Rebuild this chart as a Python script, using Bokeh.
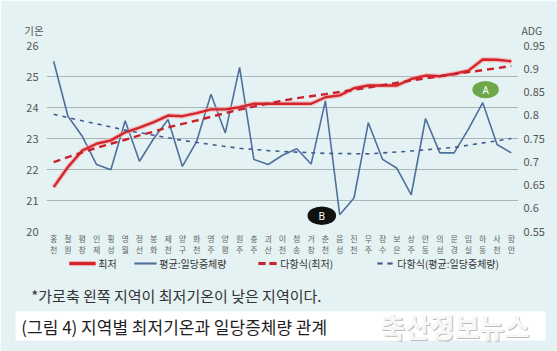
from bokeh.plotting import figure
from bokeh.models import (Range1d, LinearAxis, FixedTicker, Label)
from bokeh.core.properties import value
from bokeh.embed import file_html
from bokeh.resources import INLINE

# ---------------- data ----------------
regions = ["홍천", "철원", "평창", "인제", "횡성", "영월", "정선", "봉화", "제천", "양구", "화천",
           "영주", "양평", "원주", "충주", "괴산", "이천", "청송", "거창", "춘천", "음성", "진천",
           "무주", "장수", "보은", "상주", "안동", "의성", "문경", "임실", "하동", "사천", "함안"]
tmin = [21.43, 22.08, 22.61, 22.83, 22.94, 23.20, 23.35, 23.53, 23.74, 23.72, 23.82,
        23.94, 23.94, 24.01, 24.12, 24.12, 24.12, 24.12, 24.12, 24.33, 24.39, 24.62,
        24.71, 24.71, 24.71, 24.92, 25.03, 25.01, 25.09, 25.19, 25.55, 25.54, 25.49]
adg = [0.916, 0.798, 0.755, 0.694, 0.683, 0.788, 0.701, 0.750, 0.791, 0.690, 0.744,
       0.845, 0.762, 0.903, 0.705, 0.694, 0.714, 0.728, 0.695, 0.831, 0.586, 0.622,
       0.784, 0.705, 0.686, 0.629, 0.793, 0.719, 0.719, 0.770, 0.827, 0.737, 0.719]
# polynomial trend lines
tmin_trend_idx = [0, 1, 2, 3, 4, 5, 6, 7, 8, 9, 10, 11, 12, 13, 14, 15, 16, 17, 19, 21, 23, 25, 27, 29, 31, 32]
tmin_trend = [22.24, 22.40, 22.55, 22.70, 22.83, 22.96, 23.10, 23.22, 23.36, 23.47, 23.58,
              23.70, 23.82, 23.93, 24.03, 24.13, 24.22, 24.30, 24.43, 24.57, 24.72, 24.87,
              25.01, 25.14, 25.27, 25.34]
adg_trend_idx = [0, 2, 4, 5, 7, 9, 11, 13, 15, 16, 19, 22, 25, 28, 31, 32]
adg_trend = [0.802, 0.788, 0.775, 0.768, 0.757, 0.746, 0.737, 0.729, 0.724, 0.722,
             0.718, 0.717, 0.723, 0.731, 0.745, 0.750]
temp_ticks = [20, 21, 22, 23, 24, 25, 26]
adg_ticks = [0.55, 0.6, 0.65, 0.7, 0.75, 0.8, 0.85, 0.9, 0.95]
ann_labels = ["A", "B"]
ann_idx = [30, 20]
series_names = ["최저", "평균:일당증체량", "다항식(최저)", "다항식(평균:일당증체량)"]

FONT = "Noto Sans CJK KR"
BG = "#e5f2f3"
RED = "#d6242c"
REDT = "#c8232b"
BLUE = "#4f6f9c"
BLUET = "#3c5b8f"
GLOW = "#f2a0a3"

x = list(range(len(regions)))
p = figure(frame_width=472, frame_height=186, min_border_left=46, min_border_right=39,
           min_border_top=45, min_border_bottom=120,
           x_range=Range1d(-0.5, len(regions) - 0.5), y_range=Range1d(20, 26),
           output_backend="svg", toolbar_location=None, tools="")
p.extra_y_ranges = {"adg": Range1d(0.55, 0.95)}
p.background_fill_color = BG
p.border_fill_color = BG
p.outline_line_color = None


# page-pixel helpers for texts around the frame
def dx(px):
    return (px - 46.2) / 14.3 - 0.5


def dy(py):
    return 26 - (py - 45) / 31.0


p.xaxis.ticker = FixedTicker(ticks=x)
p.xaxis.major_label_overrides = {i: "\n".join(list(r)) for i, r in zip(x, regions)}
p.xaxis.major_label_text_font = FONT
p.xaxis.major_label_text_font_size = "8px"
p.xaxis.major_label_text_color = "#666666"
p.xaxis.major_label_text_line_height = 1.0
p.xaxis.major_label_standoff = 1
p.xaxis.axis_line_color = None
p.xaxis.major_tick_line_color = None
p.xaxis.minor_tick_line_color = None
p.xaxis.major_tick_out = 0
p.xaxis.major_tick_in = 0

p.yaxis.ticker = FixedTicker(ticks=temp_ticks)
p.yaxis.major_label_text_font = FONT
p.yaxis.major_label_text_font_size = "11px"
p.yaxis.major_label_text_color = "#555555"
p.yaxis.major_label_standoff = 8
p.yaxis.axis_line_color = None
p.yaxis.major_tick_line_color = None
p.yaxis.minor_tick_line_color = None
p.yaxis.major_tick_out = 0
p.yaxis.major_tick_in = 0

ax2 = LinearAxis(y_range_name="adg", ticker=FixedTicker(ticks=adg_ticks))
ax2.major_label_overrides = {t: f"{t:g}" for t in adg_ticks}
ax2.major_label_text_font = FONT
ax2.major_label_text_font_size = "11px"
ax2.major_label_text_color = "#555555"
ax2.major_label_standoff = 5
ax2.axis_line_color = None
ax2.major_tick_line_color = None
ax2.minor_tick_line_color = None
ax2.major_tick_out = 0
ax2.major_tick_in = 0
p.add_layout(ax2, "right")

p.xgrid.grid_line_color = None
p.ygrid.ticker = FixedTicker(ticks=temp_ticks)
p.ygrid.grid_line_color = "#aab5b8"
p.ygrid.grid_line_width = 1

p.line(x, adg, y_range_name="adg", line_color=BLUE, line_width=1.6)
p.line(x, tmin, line_color=GLOW, line_width=5, line_alpha=0.55)
p.line(x, tmin, line_color=RED, line_width=2.4)
p.line(tmin_trend_idx, tmin_trend, line_color=REDT, line_width=2.4, line_dash="7 5")
p.line(adg_trend_idx, adg_trend, y_range_name="adg", line_color=BLUET,
       line_width=1.6, line_dash="4 5")

ann_x = [ann_idx[0] + 0.2, ann_idx[1] - 1.25]
ann_y = [adg[ann_idx[0]] + 0.028, adg[ann_idx[1]] - 0.002]
p.ellipse(ann_x, ann_y, width=[1.85, 2.0], height=[0.037, 0.04], y_range_name="adg",
          fill_color=["#6ea64a", "#111111"], line_color=None)
p.text(ann_x, ann_y, text=ann_labels, y_range_name="adg", text_color="white",
       text_font_size="10px", text_align="center", text_baseline="middle",
       text_font=value("Noto Sans"))

# axis titles
p.add_layout(Label(x=dx(24), y=dy(30), text="기온", text_font=FONT, text_font_size="10.5px",
                   text_color="#555555", text_baseline="middle", text_align="left"), "above")
p.add_layout(Label(x=dx(521), y=dy(30), text="ADG", text_font=FONT, text_font_size="10.5px",
                   text_color="#555555", text_baseline="middle", text_align="left"), "above")


# ---- legend row (annotations in a side panel are not clipped to the frame) ----
def key(px0, px1, py, top, bottom, color, alpha=1.0):
    p.add_layout(Label(x=dx(px0), y=dy(py), text=" ", text_font_size="1px",
                       text_align="left", text_baseline="middle",
                       background_fill_color=color, background_fill_alpha=alpha,
                       padding=dict(left=px1 - px0, right=0, top=top, bottom=bottom)), "right")


LY = 263
key(69, 95, LY, 2, 2, GLOW, 0.7)
key(69, 95, LY, 1, 1, RED)
key(134, 156, LY, 0, 1, BLUE)
key(258, 265, LY, 1, 1, REDT)
key(269, 276, LY, 1, 1, REDT)
key(377, 382, LY, 0, 1, BLUET)
key(387, 392, LY, 0, 1, BLUET)
for px, name in zip([98, 159, 280, 397], series_names):
    p.add_layout(Label(x=dx(px), y=dy(LY), text=name, text_font=FONT, text_font_size="10px",
                       text_color="#333333", text_baseline="middle", text_align="left"), "right")

# footnote, white caption band, caption, watermark
p.add_layout(Label(x=dx(545), y=dy(325.5), text=" ", text_font=FONT, text_font_size="17px",
                   text_align="right", text_baseline="middle",
                   background_fill_color="white", background_fill_alpha=1,
                   padding=dict(left=526, right=0, top=2, bottom=2)), "right")
p.add_layout(Label(x=dx(31), y=dy(295), text="*가로축 왼쪽 지역이 최저기온이 낮은 지역이다.",
                   text_font=FONT, text_font_size="15px", text_color="#333333",
                   text_baseline="middle", text_align="left"), "right")
p.add_layout(Label(x=dx(21), y=dy(326), text="(그림 4) 지역별 최저기온과 일당증체량 관계",
                   text_font=FONT, text_font_size="17px", text_color="#1e1e1e",
                   text_baseline="middle", text_align="left"), "right")
p.add_layout(Label(x=dx(381), y=dy(327), text="축산정보뉴스", text_font=FONT,
                   text_font_size="27px", text_font_style="bold", text_color="#bdbdbd",
                   text_baseline="middle", text_align="left"), "right")
p.add_layout(Label(x=dx(380), y=dy(326), text="축산정보뉴스", text_font=FONT,
                   text_font_size="27px", text_font_style="bold", text_color="#f7f7f7",
                   text_baseline="middle", text_align="left"), "right")

open("out.html", "w").write(file_html(p, INLINE))
